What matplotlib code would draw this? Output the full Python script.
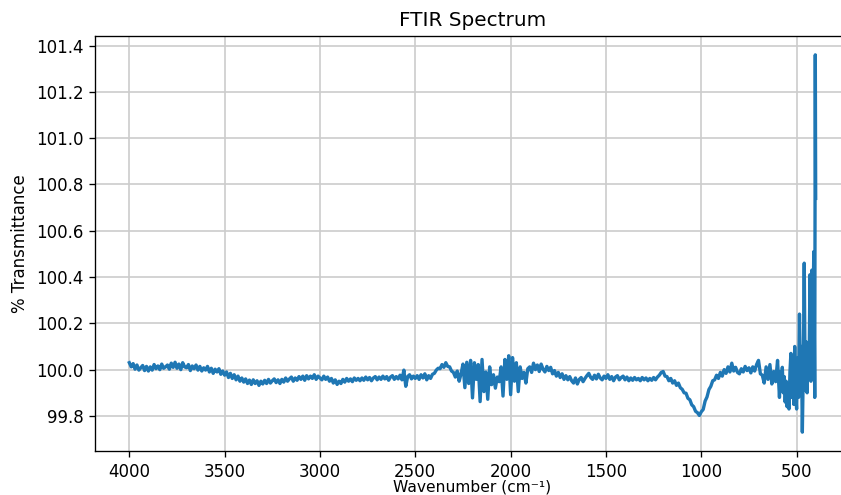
import numpy as np
import matplotlib
matplotlib.use("Agg")
import matplotlib.pyplot as plt
from matplotlib.ticker import FormatStrFormatter

# Wavenumber grid (cm^-1): 10 cm^-1 steps from 4000 to 610, then finer tail
wn_main = np.arange(4000, 600, -10)
wn_tail = [600, 595, 590, 585, 580, 575, 570, 565, 560, 555, 550, 545, 540,
           535, 530, 525, 520, 515, 510, 505, 500, 495, 490, 485, 480, 475,
           470, 465, 460, 455, 450, 445, 440, 435, 430, 425, 420, 415, 410,
           405, 402, 400]

# % Transmittance values, in 100 cm^-1 blocks
t_4000 = [100.030, 100.012, 100.026, 100.002, 100.020, 99.998, 100.008, 100.018, 99.996, 100.014]
t_3900 = [99.994, 100.012, 99.998, 100.022, 100.004, 100.016, 100.000, 100.024, 100.006, 100.012]
t_3800 = [100.020, 100.002, 100.028, 100.010, 100.032, 100.006, 100.024, 100.000, 100.030, 100.012]
t_3700 = [100.008, 100.022, 99.996, 100.016, 100.004, 100.020, 99.998, 100.014, 99.994, 100.008]
t_3600 = [99.998, 100.014, 99.990, 100.006, 99.984, 100.002, 99.990, 100.004, 99.980, 99.994]
t_3500 = [99.976, 99.990, 99.966, 99.984, 99.962, 99.978, 99.956, 99.972, 99.950, 99.964]
t_3400 = [99.946, 99.960, 99.940, 99.955, 99.936, 99.956, 99.940, 99.952, 99.932, 99.950]
t_3300 = [99.938, 99.954, 99.940, 99.958, 99.942, 99.952, 99.960, 99.944, 99.956, 99.940]
t_3200 = [99.958, 99.946, 99.964, 99.950, 99.960, 99.968, 99.950, 99.964, 99.954, 99.970]
t_3100 = [99.958, 99.972, 99.954, 99.974, 99.960, 99.972, 99.962, 99.978, 99.958, 99.972]
t_3000 = [99.964, 99.956, 99.972, 99.958, 99.968, 99.950, 99.962, 99.942, 99.956, 99.936]
t_2900 = [99.950, 99.940, 99.958, 99.946, 99.962, 99.950, 99.960, 99.948, 99.964, 99.954]
t_2800 = [99.962, 99.952, 99.964, 99.954, 99.968, 99.956, 99.966, 99.952, 99.964, 99.970]
t_2700 = [99.956, 99.968, 99.958, 99.972, 99.960, 99.970, 99.954, 99.968, 99.974, 99.958]
t_2600 = [99.970, 99.960, 99.976, 99.956, 99.998, 99.928, 99.970, 99.978, 99.960, 99.972]
t_2500 = [99.962, 99.974, 99.958, 99.978, 99.964, 99.982, 99.956, 99.974, 99.962, 99.980]
t_2400 = [99.984, 99.998, 100.006, 100.004, 100.022, 100.010, 100.030, 100.014, 100.012, 99.994]
t_2300 = [99.988, 99.968, 99.994, 99.950, 99.982, 100.024, 99.922, 100.032, 99.940, 100.040]
t_2200 = [99.878, 100.030, 99.958, 100.022, 99.862, 100.044, 99.905, 99.990, 99.872, 100.012]
t_2100 = [99.935, 99.978, 99.920, 99.968, 99.948, 100.012, 99.886, 100.044, 99.958, 100.060]
t_2000 = [99.892, 100.052, 99.950, 100.030, 99.905, 100.012, 99.962, 99.988, 99.942, 100.004]
t_1900 = [100.012, 99.988, 100.028, 100.000, 100.020, 99.992, 100.024, 100.002, 99.990, 100.014]
t_1800 = [99.996, 100.010, 99.982, 99.996, 99.972, 99.988, 99.966, 99.982, 99.958, 99.974]
t_1700 = [99.956, 99.970, 99.952, 99.942, 99.964, 99.938, 99.958, 99.966, 99.948, 99.962]
t_1600 = [99.974, 99.984, 99.966, 99.958, 99.976, 99.960, 99.980, 99.964, 99.956, 99.972]
t_1500 = [99.962, 99.978, 99.958, 99.970, 99.952, 99.968, 99.974, 99.956, 99.966, 99.972]
t_1400 = [99.956, 99.968, 99.952, 99.964, 99.954, 99.966, 99.956, 99.962, 99.952, 99.966]
t_1300 = [99.956, 99.964, 99.952, 99.962, 99.954, 99.966, 99.956, 99.968, 99.976, 99.988]
t_1200 = [99.992, 99.972, 99.970, 99.952, 99.962, 99.942, 99.952, 99.932, 99.942, 99.922]
t_1100 = [99.915, 99.900, 99.898, 99.876, 99.870, 99.848, 99.840, 99.820, 99.814, 99.802]
t_1000 = [99.818, 99.828, 99.864, 99.882, 99.914, 99.928, 99.952, 99.956, 99.976, 99.962]
t_0900 = [99.988, 99.972, 100.000, 99.984, 100.012, 99.990, 100.028, 99.994, 100.010, 99.988]
t_0800 = [99.982, 100.004, 99.990, 100.014, 99.996, 100.008, 99.986, 100.012, 99.994, 100.022]
t_0700 = [100.040, 99.982, 99.976, 99.942, 100.012, 99.958, 100.022, 99.938, 99.992, 99.948]
t_tail = [100.040, 99.960, 99.880, 99.990, 99.920, 100.010, 99.900, 99.970, 99.860, 99.950,
          99.840, 99.920, 99.830, 99.990, 100.070, 99.880, 100.020, 99.850, 100.100, 99.900,
          99.830, 100.050, 99.880, 100.240, 99.950, 100.100, 99.730, 100.000, 100.460, 99.910,
          100.120, 99.900, 100.080, 99.960, 100.410, 99.950, 100.430, 100.150, 100.510, 99.880,
          101.360, 100.740]

blocks = [t_4000, t_3900, t_3800, t_3700, t_3600, t_3500, t_3400, t_3300, t_3200,
          t_3100, t_3000, t_2900, t_2800, t_2700, t_2600, t_2500, t_2400, t_2300,
          t_2200, t_2100, t_2000, t_1900, t_1800, t_1700, t_1600, t_1500, t_1400,
          t_1300, t_1200, t_1100, t_1000, t_0900, t_0800, t_0700]

wavenumber = np.concatenate([wn_main, np.array(wn_tail, dtype=float)])
transmittance = np.concatenate([np.concatenate(blocks), np.array(t_tail)])

W, H, DPI = 841, 495, 120
fig = plt.figure(figsize=(W / DPI, H / DPI), dpi=DPI)
ax = fig.add_axes([95 / W, 1 - 451 / H, (850 - 95) / W, (451 - 36) / H])

ax.plot(wavenumber, transmittance, color="#1f77b4", linewidth=2.0)
ax.invert_xaxis()
ax.set_xticks([4000, 3500, 3000, 2500, 2000, 1500, 1000, 500])
ax.set_yticks([99.8, 100.0, 100.2, 100.4, 100.6, 100.8, 101.0, 101.2, 101.4])
ax.yaxis.set_major_formatter(FormatStrFormatter("%.1f"))
ax.grid(True, color="#cccccc", linewidth=1.0)
ax.set_axisbelow(True)
ax.set_title("FTIR Spectrum")
ax.set_xlabel("Wavenumber (cm⁻¹)", labelpad=-0.5, fontsize=9.3)
ax.set_ylabel("% Transmittance")

fig.savefig("out.png", dpi=DPI)
